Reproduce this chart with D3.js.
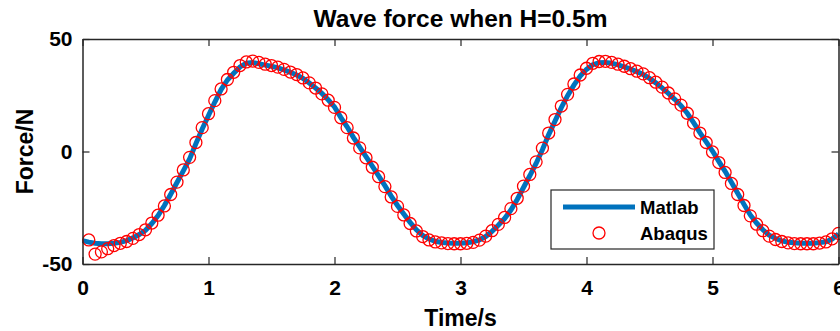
<!DOCTYPE html>
<html>
<head>
<meta charset="utf-8">
<script src="https://cdn.jsdelivr.net/npm/d3@7"></script>
<style>
  body { margin: 0; background: #fff; }
  text { font-family: "Liberation Sans", Arial, sans-serif; font-weight: bold; fill: #000; }
</style>
</head>
<body>
<div id="chart"></div>
<script>
// sample spacing of both series (s)
const dt = 0.05;

// Matlab solution, t = 0 ... 6
const matlab = [
  -39.6, -40.3, -40.8, -41.0, -41.0, -40.8, -40.4, -39.6, -38.4, -36.9,
  -35.0, -32.0, -28.5, -24.0, -19.0, -13.8, -8.6, -3.3, 3.5, 10.0,
  16.0, 22.0, 27.5, 31.8, 34.8, 37.6, 39.2, 39.5, 39.0, 38.4,
  37.9, 37.2, 36.3, 35.2, 34.0, 32.5, 30.4, 28.2, 25.8, 23.0,
  19.8, 15.2, 11.0, 6.3, 2.0, -2.3, -6.5, -10.8, -15.2, -19.8,
  -24.0, -27.8, -31.5, -34.8, -37.3, -38.9, -39.9, -40.4, -40.7, -40.8,
  -40.8, -40.6, -40.1, -39.3, -37.8, -35.5, -32.8, -29.8, -26.0, -21.3,
  -16.0, -10.8, -5.3, 0.8, 7.5, 13.5, 19.5, 24.8, 29.5, 33.5,
  36.5, 38.6, 39.5, 39.6, 39.2, 38.5, 37.6, 36.6, 35.5, 34.2,
  32.5, 30.5, 28.3, 25.8, 23.2, 20.4, 17.0, 12.8, 8.4, 4.3,
  0.2, -4.4, -8.8, -13.7, -18.6, -23.5, -28.2, -31.8, -34.8, -37.2,
  -38.7, -39.7, -40.3, -40.6, -40.8, -40.8, -40.8, -40.5, -40.1, -38.9,
  -36.6
];

// Abaqus results, t = 0.05 ... 6
const abaqus = [
  -39.3, -45.6, -44.6, -43.2, -41.8, -40.8, -40.0, -38.6, -36.9,
  -34.8, -31.8, -28.3, -24.2, -19.1, -13.6, -8.2, -2.6, 4.0, 10.6,
  16.8, 22.6, 27.8, 32.0, 35.2, 38.2, 39.8, 40.2, 39.6, 38.8,
  38.2, 37.5, 36.5, 35.3, 34.2, 32.7, 30.5, 28.2, 25.6, 22.8,
  19.6, 15.0, 10.6, 6.0, 1.6, -2.8, -7.0, -11.2, -15.6, -20.2,
  -24.4, -28.2, -32.0, -35.3, -37.8, -39.3, -40.2, -40.6, -40.9, -41.0,
  -41.0, -40.8, -40.4, -39.4, -37.6, -35.2, -32.4, -29.3, -25.4, -20.8,
  -15.4, -10.2, -4.6, 1.5, 8.2, 14.2, 20.2, 25.4, 30.0, 34.0,
  37.0, 39.2, 40.0, 40.1, 39.6, 38.8, 37.9, 36.8, 35.7, 34.5,
  32.8, 30.8, 28.6, 26.0, 23.4, 20.6, 17.0, 12.6, 8.2, 4.0,
  -0.2, -4.9, -9.3, -14.2, -19.1, -24.0, -28.6, -32.3, -35.2, -37.6,
  -39.1, -40.0, -40.6, -40.9, -41.0, -41.0, -41.0, -40.7, -40.2, -38.8,
  -36.4
];

const xTicks = [0, 1, 2, 3, 4, 5, 6];
const yTicks = [-50, 0, 50];
const seriesNames = ['Matlab', 'Abaqus'];
const titleText = 'Wave force when H=0.5m';
const xLabel = 'Time/s';
const yLabel = 'Force/N';

const width = 840, height = 331;
const margin = { top: 39, right: 1.5, bottom: 67, left: 82.5 };
const blue = '#0072bd', red = '#ff0000', axisColor = '#262626';

const svg = d3.select('#chart').append('svg')
  .attr('width', width)
  .attr('height', height);

const x = d3.scaleLinear().domain([0, 6]).range([margin.left, width - margin.right]);
const y = d3.scaleLinear().domain([-50, 50]).range([height - margin.bottom, margin.top]);

// plain labels with an ascii hyphen, like matlab
const plain = d => String(d);

// data
const line = d3.line().x((d, i) => x(i * dt)).y(d => y(d));

svg.append('path')
  .datum(matlab)
  .attr('fill', 'none')
  .attr('stroke', blue)
  .attr('stroke-width', 5)
  .attr('d', line);

svg.append('g').selectAll('circle')
  .data(abaqus)
  .join('circle')
  .attr('cx', (d, i) => x((i + 1) * dt))
  .attr('cy', d => y(d))
  .attr('r', 6)
  .attr('fill', 'none')
  .attr('stroke', red)
  .attr('stroke-width', 1.3);

// axes: box with inward ticks on all four sides
const tickLen = 7;
const fontSize = 21;

const axBottom = svg.append('g')
  .attr('transform', `translate(0,${y(-50)})`)
  .call(d3.axisBottom(x).tickValues(xTicks).tickFormat(plain)
    .tickSizeInner(-tickLen).tickSizeOuter(0).tickPadding(16));
const axTop = svg.append('g')
  .attr('transform', `translate(0,${y(50)})`)
  .call(d3.axisTop(x).tickValues(xTicks).tickFormat('')
    .tickSizeInner(-tickLen).tickSizeOuter(0));
const axLeft = svg.append('g')
  .attr('transform', `translate(${x(0)},0)`)
  .call(d3.axisLeft(y).tickValues(yTicks).tickFormat(plain)
    .tickSizeInner(-tickLen).tickSizeOuter(0).tickPadding(10));
const axRight = svg.append('g')
  .attr('transform', `translate(${x(6)},0)`)
  .call(d3.axisRight(y).tickValues(yTicks).tickFormat('')
    .tickSizeInner(-tickLen).tickSizeOuter(0));

[axBottom, axTop, axLeft, axRight].forEach(g => {
  g.select('.domain').attr('stroke', axisColor).attr('stroke-width', 1.5);
  g.selectAll('.tick line').attr('stroke', axisColor).attr('stroke-width', 1.2);
  g.selectAll('.tick text')
    .attr('font-family', '"Liberation Sans", Arial, sans-serif')
    .attr('font-weight', 'bold')
    .attr('font-size', fontSize)
    .attr('fill', '#000');
});

// title and labels
svg.append('text')
  .attr('x', (x(0) + x(6)) / 2)
  .attr('y', 27)
  .attr('text-anchor', 'middle')
  .attr('font-size', 24.5)
  .text(titleText);

svg.append('text')
  .attr('x', (x(0) + x(6)) / 2)
  .attr('y', 326)
  .attr('text-anchor', 'middle')
  .attr('font-size', 23)
  .text(xLabel);

svg.append('text')
  .attr('transform', `translate(33,${y(0)}) rotate(-90)`)
  .attr('text-anchor', 'middle')
  .attr('font-size', 23)
  .text(yLabel);

// legend
const legend = svg.append('g').attr('transform', 'translate(551,190)');

legend.append('rect')
  .attr('width', 163)
  .attr('height', 59)
  .attr('fill', '#fff')
  .attr('stroke', axisColor)
  .attr('stroke-width', 1.2);

legend.append('line')
  .attr('x1', 12).attr('x2', 84)
  .attr('y1', 17).attr('y2', 17)
  .attr('stroke', blue)
  .attr('stroke-width', 5);

legend.append('circle')
  .attr('cx', 48).attr('cy', 43)
  .attr('r', 6)
  .attr('fill', 'none')
  .attr('stroke', red)
  .attr('stroke-width', 1.3);

legend.selectAll('text.name')
  .data(seriesNames)
  .join('text')
  .attr('class', 'name')
  .attr('x', 89)
  .attr('y', (d, i) => 24 + i * 26)
  .attr('font-size', 18.5)
  .text(d => d);
</script>
</body>
</html>
